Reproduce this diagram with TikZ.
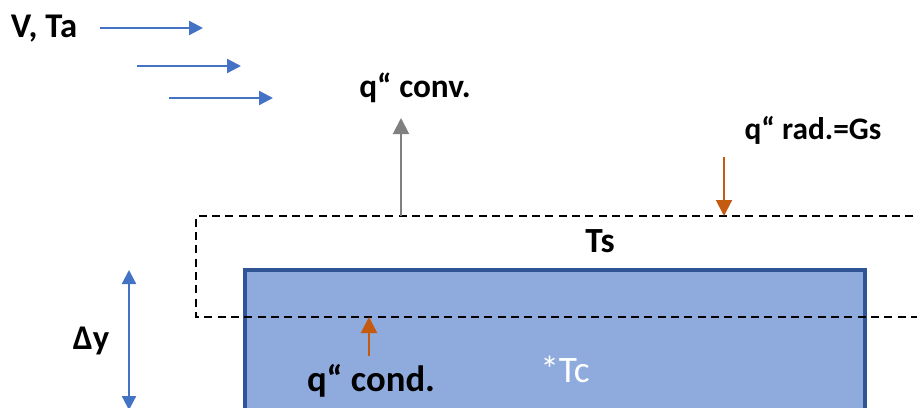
\documentclass[tikz,border=0pt]{standalone}
\usepackage{fontspec}
\setmainfont{Carlito}
\usetikzlibrary{arrows.meta}
\definecolor{windblue}{HTML}{4472C4}
\definecolor{slabfill}{HTML}{8FAADC}
\definecolor{slabline}{HTML}{2F5597}
\definecolor{heatorange}{HTML}{C55A11}
\definecolor{convgray}{HTML}{808080}
\newcommand{\lblsize}[1]{\fontsize{#1}{#1}\selectfont}
\begin{document}
\begin{tikzpicture}[x=0.75pt, y=-0.75pt,
    lbl/.style={font=\bfseries, inner sep=0pt, anchor=base},
    flow/.style={line width=1.7pt, -{Triangle[width=10.5pt, length=10.5pt]}},
    wind/.style={flow, draw=windblue},
    heat/.style={flow, draw=heatorange, line width=1.5pt, -{Triangle[width=12pt, length=12pt]}},
    conv/.style={flow, draw=convgray, line width=1.5pt, -{Triangle[width=12pt, length=12pt]}}]
  \useasboundingbox (0,0) rectangle (917,407);
  \clip (0,0) rectangle (917,407);
  % slab and surface layer
  \filldraw[fill=slabfill, draw=slabline, line width=3pt] (245,270) rectangle (865,430);
  \draw[dashed, line width=1.2pt, dash pattern=on 6pt off 4pt] (940,216) -- (196,216) -- (196,317) -- (940,317);
  % free ends of the arrows
  \coordinate (w1a) at (100,28);  \coordinate (w1b) at (203,28);
  \coordinate (w2a) at (137,66);  \coordinate (w2b) at (241,66);
  \coordinate (w3a) at (169,98);  \coordinate (w3b) at (273,98);
  \coordinate (cvs) at (401,216); \coordinate (cvt) at (401,118);
  \coordinate (rds) at (724,157); \coordinate (rdt) at (724,216);
  \coordinate (cds) at (369,356); \coordinate (cdt) at (369,317);
  \coordinate (dyt) at (129,270); \coordinate (dyb) at (129,410);
  % labels
  \node[lbl] (va) at (44,37) {\lblsize{26}V, Ta};
  \node[lbl] (qconv) at (415,97) {\lblsize{25}q“ conv.};
  \node[lbl] (qrad) at (813,139) {\lblsize{23.5}q“ rad.=Gs};
  \node[lbl] (ts) at (600,252) {\lblsize{26.5}Ts};
  \node[lbl] (qcond) at (371,391) {\lblsize{27.5}q“ cond.};
  \node[lbl] (dy) at (91,349) {\lblsize{26}Δy};
  \node[inner sep=0pt, anchor=base, text=white] (tc) at (565,382) {\lblsize{28}*Tc};
  % arrows
  \draw[wind] (w1a) -- (w1b);
  \draw[wind] (w2a) -- (w2b);
  \draw[wind] (w3a) -- (w3b);
  \draw[conv] (cvs) -- (cvt);
  \draw[heat] (rds) -- (rdt);
  \draw[heat] (cds) -- (cdt);
  \draw[wind, {Triangle[width=10.5pt, length=10.5pt]}-{Triangle[width=10.5pt, length=10.5pt]}] (dyt) -- (dyb);
\end{tikzpicture}
\end{document}
